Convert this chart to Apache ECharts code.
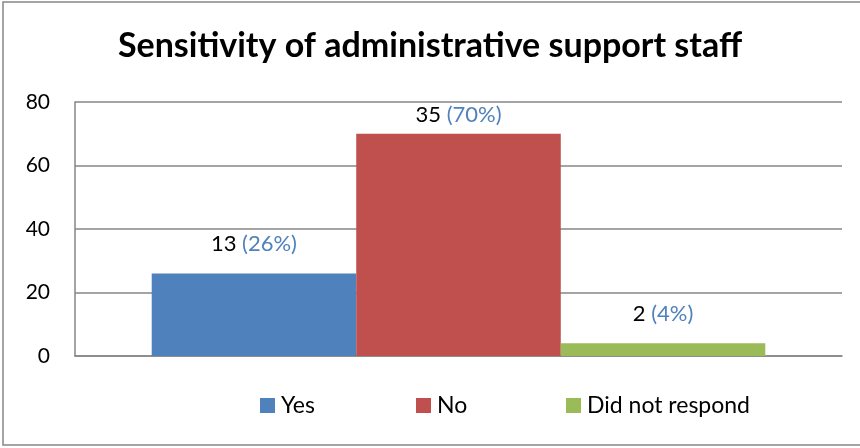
<!DOCTYPE html>
<html>
<head>
<meta charset="utf-8">
<script src="https://cdn.jsdelivr.net/npm/echarts@6/dist/echarts.min.js"></script>
<style>
  html, body { margin: 0; padding: 0; background: #fff; }
  #chart { width: 860px; height: 448px; }
</style>
</head>
<body>
<div id="chart"></div>
<script>
// Survey responses: counts and their share of all respondents
const titleText = 'Sensitivity of administrative support staff';
const categories = [''];
const seriesNames = ['Yes', 'No', 'Did not respond'];
const counts = [13, 35, 2];
const percents = [26, 70, 4];
const seriesColors = ['#4F81BD', '#C0504D', '#9BBB59'];
const yTicks = [0, 20, 40, 60, 80];

const FONT = 'Lato, "Open Sans", sans-serif';

// Label offsets above each bar (the tallest one is kept inside the plot)
const labelGaps = [19, 8, 18];

const series = seriesNames.map((name, i) => ({
  name: name,
  type: 'bar',
  data: [percents[i]],
  barGap: 0,
  barCategoryGap: '20%',
  itemStyle: { color: seriesColors[i] },
  label: {
    show: true,
    position: 'top',
    distance: labelGaps[i],
    formatter: () => '{n|' + counts[i] + ' }{p|(' + percents[i] + '%)}',
    rich: {
      n: { color: '#000', fontSize: 22, fontFamily: FONT },
      p: { color: '#4F81BD', fontSize: 22, fontFamily: FONT }
    }
  }
}));

// Separate legend blocks so each entry sits in its own slot
const legendLefts = [255, 411, 561];
const legends = seriesNames.map((name, i) => ({
  data: [name],
  left: legendLefts[i],
  top: 389,
  icon: 'rect',
  itemWidth: 15,
  itemHeight: 15,
  itemGap: 0,
  textStyle: { fontSize: 23, fontFamily: FONT, color: '#000', padding: [0, 0, 0, 1] }
}));

const chart = echarts.init(document.getElementById('chart'), null, { renderer: 'canvas' });
chart.setOption({
  animation: false,
  backgroundColor: '#fff',
  title: {
    text: titleText,
    left: 'center',
    top: 24,
    textStyle: { fontSize: 34, fontWeight: 'bold', fontFamily: FONT, color: '#000' }
  },
  legend: legends,
  grid: { left: 75, right: 18, top: 102, bottom: 92, containLabel: false },
  xAxis: {
    type: 'category',
    data: categories,
    axisLine: { show: true, lineStyle: { color: '#868686', width: 1.5 } },
    axisTick: { show: false },
    axisLabel: { show: false }
  },
  yAxis: {
    type: 'value',
    min: yTicks[0],
    max: yTicks[yTicks.length - 1],
    interval: 20,
    axisLine: { show: true, lineStyle: { color: '#868686', width: 1.5 } },
    axisTick: { show: false },
    axisLabel: { fontSize: 21, fontFamily: FONT, color: '#000', margin: 25 },
    splitLine: { lineStyle: { color: '#868686', width: 1.5 } }
  },
  graphic: [{
    type: 'rect',
    shape: { x: 3, y: 2, width: 870, height: 443 },
    style: { fill: 'none', stroke: '#868686', lineWidth: 1.5 },
    silent: true
  }],
  series: series
});
</script>
</body>
</html>
